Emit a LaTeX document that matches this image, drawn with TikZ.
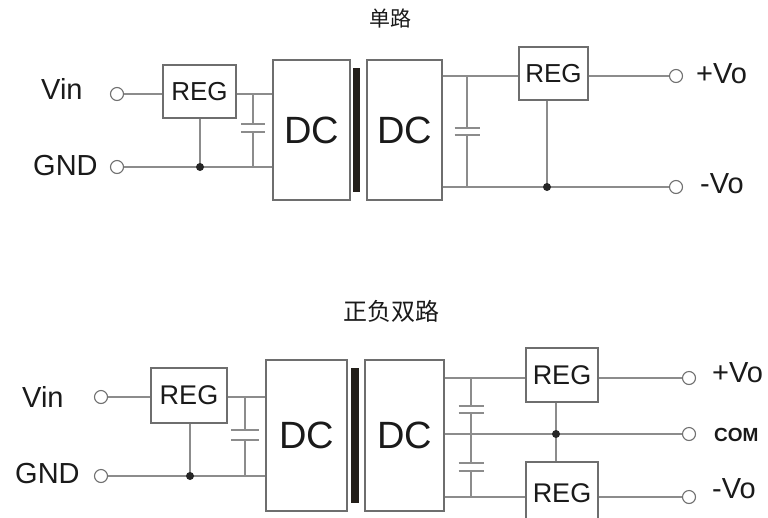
\documentclass[tikz,border=0pt]{standalone}
\usepackage{fontspec}
\setmainfont{Liberation Sans}
\newfontfamily\cjk{Noto Sans CJK SC}
\definecolor{wirec}{HTML}{8C8C8C}
\definecolor{boxc}{HTML}{6E6E6E}
\definecolor{termc}{HTML}{707070}
\definecolor{txt}{HTML}{1A1A1A}
\definecolor{barc}{HTML}{231F1A}
\begin{document}
\begin{tikzpicture}[x=1pt,y=-1pt,
  wire/.style={draw=wirec, line width=1.1pt},
  plate/.style={draw=wirec, line width=1.1pt},
  box/.style={draw=boxc, line width=1.2pt, inner sep=0pt, fill=white, text=txt},
  regbox/.style={box, font=\fontsize{26}{26}\selectfont},
  dcbox/.style={box, font=\fontsize{38}{38}\selectfont},
  bar/.style={fill=barc, draw=none, inner sep=0pt},
  term/.style={circle, draw=termc, line width=1.1pt, minimum size=13pt, inner sep=0pt, fill=white},
  jdot/.style={circle, fill=black!85, inner sep=0pt, minimum size=8pt},
  lbl/.style={font=\fontsize{29}{29}\selectfont, text=txt, inner sep=0pt, anchor=base west},
  title/.style={font=\cjk\fontsize{20}{20}\selectfont, text=txt, inner sep=0pt}]
\useasboundingbox (0,0) rectangle (768,517);
\clip (0,0) rectangle (768,517);

% ===== top: single output =====
\node[title, font=\cjk\fontsize{21}{21}\selectfont] (t1) at (390,18) {单路};
\node[lbl] (vinTl) at (41,99) {Vin};
\node[lbl] (gndTl) at (33,175) {GND};
\node[lbl] (pvoTl) at (696,83) {+Vo};
\node[lbl] (nvoTl) at (700,193) {-Vo};

\node[term] (vinT) at (117,94) {};
\node[term] (gndT) at (117,167) {};
\node[term] (pvoT) at (676,76) {};
\node[term] (nvoT) at (676,187) {};

\node[regbox, minimum width=73pt, minimum height=53pt] (regT1) at (199.5,91.5) {REG};
\node[dcbox, minimum width=77pt, minimum height=140pt] (dcT1) at (311.5,130) {DC};
\node[bar, minimum width=7pt, minimum height=124pt] (barT) at (356.5,130) {};
\node[dcbox, minimum width=75pt, minimum height=140pt] (dcT2) at (404.5,130) {DC};
\node[regbox, minimum width=69pt, minimum height=53pt] (regT2) at (553.5,73.5) {REG};

% input side
\draw[wire] (vinT) -- (vinT -| regT1.west);
\draw[wire] (vinT -| regT1.east) -- (vinT -| dcT1.west);
\draw[wire] (gndT) -- (gndT -| dcT1.west);
\coordinate (jT1) at (200,167);
\draw[wire] (jT1 |- regT1.south) -- (jT1);
\node[jdot] (dT1) at (jT1) {};
% input capacitor
\coordinate (cT1t) at (253,94);
\coordinate (cT1a) at (253,124);
\coordinate (cT1b) at (253,132);
\coordinate (cT1s) at (253,167);
\draw[wire] (cT1t) -- (cT1a);
\draw[wire] (cT1b) -- (cT1s);
\draw[plate] ([xshift=-12pt]cT1a) -- ([xshift=12pt]cT1a);
\draw[plate] ([xshift=-12pt]cT1b) -- ([xshift=12pt]cT1b);
% output side
\draw[wire] (pvoT -| dcT2.east) -- (pvoT -| regT2.west);
\draw[wire] (pvoT -| regT2.east) -- (pvoT);
\draw[wire] (nvoT -| dcT2.east) -- (nvoT);
\coordinate (jT2) at (547,187);
\draw[wire] (jT2 |- regT2.south) -- (jT2);
\node[jdot] (dT2) at (jT2) {};
\coordinate (cT2t) at (467,76);
\coordinate (cT2a) at (467,128);
\coordinate (cT2b) at (467,135);
\coordinate (cT2s) at (467,187);
\draw[wire] (cT2t) -- (cT2a);
\draw[wire] (cT2b) -- (cT2s);
\draw[plate] ([xshift=-12.5pt]cT2a) -- ([xshift=12.5pt]cT2a);
\draw[plate] ([xshift=-12.5pt]cT2b) -- ([xshift=12.5pt]cT2b);

% ===== bottom: dual output =====
\node[title, font=\cjk\fontsize{24}{24}\selectfont] (t2) at (391,311) {正负双路};
\node[lbl] (vinBl) at (22,407) {Vin};
\node[lbl] (gndBl) at (15,483) {GND};
\node[lbl] (pvoBl) at (712,382) {+Vo};
\node[lbl, font=\bfseries\fontsize{19}{19}\selectfont] (comBl) at (714,441) {COM};
\node[lbl] (nvoBl) at (712,498) {-Vo};

\node[term] (vinB) at (101,397) {};
\node[term] (gndB) at (101,476) {};
\node[term] (pvoB) at (689,378) {};
\node[term] (comB) at (689,434) {};
\node[term] (nvoB) at (689,497) {};

\node[regbox, font=\fontsize{27}{27}\selectfont, minimum width=76pt, minimum height=55pt] (regB1) at (189,395.5) {REG};
\node[dcbox, minimum width=81pt, minimum height=151pt] (dcB1) at (306.5,435.5) {DC};
\node[bar, minimum width=8pt, minimum height=135pt] (barB) at (355,435.5) {};
\node[dcbox, minimum width=79pt, minimum height=151pt] (dcB2) at (404.5,435.5) {DC};
\node[regbox, font=\fontsize{27}{27}\selectfont, minimum width=72pt, minimum height=54pt] (regBa) at (562,375) {REG};
\node[regbox, font=\fontsize{27}{27}\selectfont, minimum width=72pt, minimum height=62pt] (regBb) at (562,493) {REG};

% input side
\draw[wire] (vinB) -- (vinB -| regB1.west);
\draw[wire] (vinB -| regB1.east) -- (vinB -| dcB1.west);
\draw[wire] (gndB) -- (gndB -| dcB1.west);
\coordinate (jB1) at (190,476);
\draw[wire] (jB1 |- regB1.south) -- (jB1);
\node[jdot] (dB1) at (jB1) {};
\coordinate (cB1t) at (245,397);
\coordinate (cB1a) at (245,430);
\coordinate (cB1b) at (245,440);
\coordinate (cB1s) at (245,476);
\draw[wire] (cB1t) -- (cB1a);
\draw[wire] (cB1b) -- (cB1s);
\draw[plate] ([xshift=-14pt]cB1a) -- ([xshift=14pt]cB1a);
\draw[plate] ([xshift=-14pt]cB1b) -- ([xshift=14pt]cB1b);
% output side
\draw[wire] (pvoB -| dcB2.east) -- (pvoB -| regBa.west);
\draw[wire] (pvoB -| regBa.east) -- (pvoB);
\draw[wire] (comB -| dcB2.east) -- (comB);
\draw[wire] (nvoB -| dcB2.east) -- (nvoB -| regBb.west);
\draw[wire] (nvoB -| regBb.east) -- (nvoB);
\coordinate (jB2) at (556,434);
\draw[wire] (jB2 |- regBa.south) -- (jB2 |- regBb.north);
\node[jdot] (dB2) at (jB2) {};
\coordinate (cB2t) at (471,378);
\coordinate (cB2a) at (471,406);
\coordinate (cB2b) at (471,413);
\coordinate (cB2c) at (471,463);
\coordinate (cB2d) at (471,471);
\coordinate (cB2s) at (471,497);
\draw[wire] (cB2t) -- (cB2a);
\draw[wire] (cB2b) -- (cB2c);
\draw[wire] (cB2d) -- (cB2s);
\draw[plate] ([xshift=-12.5pt]cB2a) -- ([xshift=12.5pt]cB2a);
\draw[plate] ([xshift=-12.5pt]cB2b) -- ([xshift=12.5pt]cB2b);
\draw[plate] ([xshift=-12.5pt]cB2c) -- ([xshift=12.5pt]cB2c);
\draw[plate] ([xshift=-12.5pt]cB2d) -- ([xshift=12.5pt]cB2d);
\end{tikzpicture}
\end{document}
